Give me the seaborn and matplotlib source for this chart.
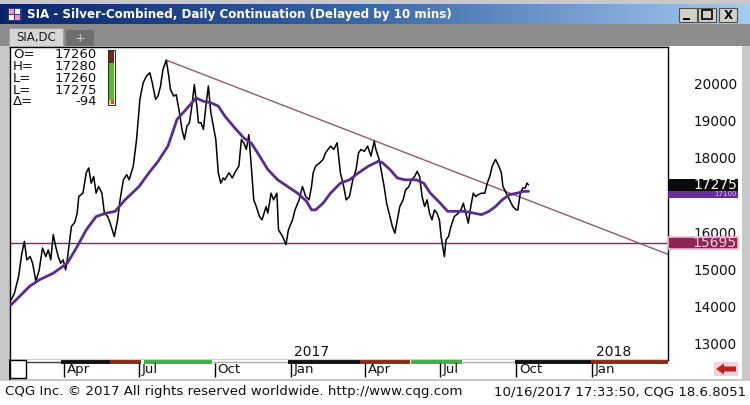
import matplotlib
matplotlib.use("Agg")
import matplotlib.pyplot as plt
import matplotlib.transforms as mtransforms
import matplotlib.dates as mdates
from matplotlib.patches import Rectangle, Polygon
from matplotlib.colors import LinearSegmentedColormap
import numpy as np
import pandas as pd
import seaborn as sns

# ---------------- data ----------------
price_dates = [
    "2016-01-28", "2016-02-01", "2016-02-06", "2016-02-10", "2016-02-13", "2016-02-16", "2016-02-20",
    "2016-02-23", "2016-02-27", "2016-03-02", "2016-03-06", "2016-03-10", "2016-03-13", "2016-03-16",
    "2016-03-19", "2016-03-22", "2016-03-25", "2016-03-28", "2016-03-31", "2016-04-03", "2016-04-05",
    "2016-04-10", "2016-04-14", "2016-04-17", "2016-04-19", "2016-04-24", "2016-04-28", "2016-05-01",
    "2016-05-04", "2016-05-07", "2016-05-10", "2016-05-13", "2016-05-17", "2016-05-20", "2016-05-24",
    "2016-05-27", "2016-06-01", "2016-06-05", "2016-06-08", "2016-06-12", "2016-06-16", "2016-06-19",
    "2016-06-24", "2016-06-28", "2016-07-02", "2016-07-06", "2016-07-10", "2016-07-14", "2016-07-17",
    "2016-07-21", "2016-07-24", "2016-07-27", "2016-07-30", "2016-08-03", "2016-08-06", "2016-08-08",
    "2016-08-12", "2016-08-15", "2016-08-19", "2016-08-22", "2016-08-25", "2016-08-28", "2016-08-31",
    "2016-09-03", "2016-09-06", "2016-09-09", "2016-09-11", "2016-09-14", "2016-09-17", "2016-09-20",
    "2016-09-23", "2016-09-26", "2016-09-29", "2016-10-02", "2016-10-05", "2016-10-08", "2016-10-11",
    "2016-10-13", "2016-10-18", "2016-10-22", "2016-10-26", "2016-10-30", "2016-11-02", "2016-11-05",
    "2016-11-08", "2016-11-11", "2016-11-14", "2016-11-17", "2016-11-20", "2016-11-24", "2016-11-27",
    "2016-12-02", "2016-12-04", "2016-12-08", "2016-12-11", "2016-12-15", "2016-12-17", "2016-12-22",
    "2016-12-26", "2016-12-29", "2017-01-03", "2017-01-06", "2017-01-11", "2017-01-15", "2017-01-19",
    "2017-01-23", "2017-01-26", "2017-01-28", "2017-01-31", "2017-02-05", "2017-02-09", "2017-02-12",
    "2017-02-18", "2017-02-22", "2017-02-26", "2017-03-02", "2017-03-06", "2017-03-09", "2017-03-13",
    "2017-03-17", "2017-03-21", "2017-03-24", "2017-03-27", "2017-03-31", "2017-04-04", "2017-04-08",
    "2017-04-12", "2017-04-14", "2017-04-18", "2017-04-21", "2017-04-24", "2017-04-27", "2017-05-01",
    "2017-05-04", "2017-05-07", "2017-05-10", "2017-05-13", "2017-05-17", "2017-05-20", "2017-05-24",
    "2017-05-27", "2017-05-31", "2017-06-03", "2017-06-06", "2017-06-09", "2017-06-12", "2017-06-15",
    "2017-06-18", "2017-06-21", "2017-06-24", "2017-06-27", "2017-06-30", "2017-07-02", "2017-07-04",
    "2017-07-06", "2017-07-08", "2017-07-11", "2017-07-14", "2017-07-18", "2017-07-23", "2017-07-26",
    "2017-07-29", "2017-08-01", "2017-08-04", "2017-08-07", "2017-08-10", "2017-08-13", "2017-08-16",
    "2017-08-20", "2017-08-24", "2017-08-27", "2017-08-30", "2017-09-02", "2017-09-06", "2017-09-10",
    "2017-09-13", "2017-09-15", "2017-09-19", "2017-09-21", "2017-09-25", "2017-09-27", "2017-10-01",
    "2017-10-03", "2017-10-06", "2017-10-09", "2017-10-12", "2017-10-14", "2017-10-16",
]
price_values = [
    14170, 14350, 14800, 15430, 15750, 15250, 15340,
    15160, 14670, 14980, 15570, 15340, 15520, 15250,
    15930, 15610, 15340, 15160, 15250, 14980, 15250,
    16150, 16260, 16510, 16960, 17050, 17600, 17730,
    17320, 17500, 17050, 17230, 17050, 16510, 16420,
    16240, 15880, 16330, 16870, 17410, 17550, 17410,
    17780, 18500, 19580, 20030, 20210, 20300, 20030,
    19580, 19670, 19940, 20390, 20640, 20210, 19850,
    19670, 19710, 19220, 18770, 18500, 18860, 18950,
    19400, 19980, 19400, 18950, 18950, 18770, 19400,
    19940, 19220, 18860, 18500, 17600, 17320, 17460,
    17410, 17600, 17460, 17640, 17780, 18500, 18400,
    18230, 18630, 17780, 16870, 16690, 16420, 16330,
    16690, 16510, 17050, 16870, 17050, 16060, 15880,
    15660, 16060, 16330, 16600, 16870, 17230, 16960,
    16870, 17230, 17600, 17780, 17870, 17960, 18140,
    18320, 18230, 18410, 17600, 17230, 16870, 16960,
    17410, 17690, 18140, 18230, 18180, 18320, 18050,
    18450, 18230, 17960, 17600, 17230, 16780, 16420,
    16150, 15970, 16330, 16690, 16870, 17140, 17230,
    17410, 17500, 17640, 17500, 16960, 16690, 16870,
    16510, 16330, 16600, 16510, 16330, 15880, 15610,
    15340, 15790, 15880, 16150, 16420, 16510, 16600,
    16780, 16510, 16240, 16690, 17050, 16960, 17010,
    17050, 17050, 17320, 17500, 17780, 17960, 17780,
    17600, 17230, 17050, 16960, 16780, 16690, 16600,
    16600, 17050, 17190, 17190, 17320, 17275,
]

ma_dates = [
    "2016-01-28", "2016-02-07", "2016-02-19", "2016-03-02", "2016-03-19", "2016-04-05", "2016-04-17",
    "2016-04-28", "2016-05-10", "2016-05-22", "2016-06-02", "2016-06-14", "2016-07-01", "2016-07-13",
    "2016-07-24", "2016-08-05", "2016-08-16", "2016-08-25", "2016-09-03", "2016-09-08", "2016-09-17",
    "2016-09-26", "2016-10-05", "2016-10-13", "2016-10-25", "2016-11-05", "2016-11-14", "2016-11-23",
    "2016-12-04", "2016-12-16", "2016-12-28", "2017-01-09", "2017-01-20", "2017-01-26", "2017-01-31",
    "2017-02-09", "2017-02-18", "2017-03-02", "2017-03-13", "2017-03-24", "2017-04-05", "2017-04-17",
    "2017-04-22", "2017-05-01", "2017-05-10", "2017-05-19", "2017-06-02", "2017-06-11", "2017-06-19",
    "2017-07-01", "2017-07-10", "2017-07-18", "2017-07-30", "2017-08-11", "2017-08-20", "2017-08-29",
    "2017-09-06", "2017-09-14", "2017-09-23", "2017-10-02", "2017-10-10", "2017-10-16",
]
ma_values = [
    14040, 14260, 14530, 14710, 14890, 15160, 15610,
    16060, 16420, 16510, 16560, 16870, 17230, 17600,
    17910, 18320, 19040, 19260, 19490, 19620, 19530,
    19490, 19400, 19130, 18810, 18540, 18400, 18090,
    17690, 17410, 17230, 17050, 16830, 16600, 16600,
    16780, 17050, 17320, 17410, 17600, 17780, 17910,
    17870, 17690, 17460, 17410, 17410, 17320, 17050,
    16780, 16560, 16560, 16560, 16510, 16470, 16560,
    16690, 16870, 17010, 17050, 17100, 17100,
]

trend_dates = ["2016-08-03", "2018-04-03"]
trend_values = [20640, 15400]
support_level = 15695
last_price = 17275

ohlc_labels = ["O=", "H=", "L=", "L=", "\u0394="]
ohlc_values = ["17260", "17280", "17260", "17275", "-94"]

ytick_values = [13000, 14000, 15000, 16000, 18000, 19000, 20000]
ytick_labels = [str(v) for v in ytick_values]

month_tick_dates = ["2016-04-01", "2016-07-01", "2016-10-01", "2017-01-01",
                    "2017-04-01", "2017-07-01", "2017-10-01", "2018-01-01"]
month_tick_labels = ["Apr", "Jul", "Oct", "Jan", "Apr", "Jul", "Oct", "Jan"]
year_dates = ["2017-01-01", "2018-01-01"]
year_labels = ["2017", "2018"]

x_range = ["2016-01-26", "2018-04-03"]
y_range = [12548, 21008]

# ---------------- figure ----------------
sns.set_theme(style="white")
plt.rcParams["font.family"] = ["DejaVu Sans"]

W, H = 750, 405
fig = plt.figure(figsize=(W / 100, H / 100), dpi=100, facecolor="#c8c8c8")


def box(x, y, w, h):
    return [x / W, 1 - (y + h) / H, w / W, h / H]


def frect(x, y, w, h, fc, ec="none", lw=0.0, z=1):
    fig.add_artist(Rectangle((x / W, 1 - (y + h) / H), w / W, h / H,
                             transform=fig.transFigure, facecolor=fc,
                             edgecolor=ec, linewidth=lw, zorder=z))


def ftext(x, y, s, **kw):
    fig.text(x / W, 1 - y / H, s, **kw)


def dnum(d):
    return mdates.date2num(pd.Timestamp(d))


# white backgrounds: y-axis area and footer
frect(668, 46, 74, 333, "white", z=-5)
frect(0, 381, 750, 24, "white", z=-5)

# title bar with gradient
tb = fig.add_axes(box(0, 4, 750, 20))
cmap_tb = LinearSegmentedColormap.from_list("tb", ["#0a246a", "#3a6aa8", "#a6caf0"])
tb.imshow(np.linspace(0, 1, 256)[None, :], aspect="auto", cmap=cmap_tb, extent=[0, 1, 0, 1])
tb.set_axis_off()

# icon
frect(8, 8, 14, 13, "#2a3f8a", z=2)
for (ix, iy, c) in [(9, 9, "#ff8fc8"), (15, 9, "#ffffff"), (9, 15, "#ffffff"), (15, 15, "#ff8fc8")]:
    frect(ix, iy, 5, 5, c, z=3)

ftext(27, 14.5, "SIA - Silver-Combined, Daily Continuation (Delayed by 10 mins)",
      color="white", fontsize=8.6, fontweight="bold", va="center")

# window buttons
for bx in [679, 698, 719]:
    frect(bx, 8, 18, 14, "#d4d0c8", ec="#505050", lw=0.8, z=2)
frect(683, 18, 7, 2, "black", z=3)
frect(702, 10.5, 10, 8.5, "none", ec="black", lw=1.2, z=3)
ftext(728, 15.5, "X", color="black", fontsize=8.5, fontweight="bold", ha="center", va="center")

# tab row
frect(0, 24, 750, 22, "#8c8c8c", z=-4)
frect(9, 28, 54, 18, "#d6d6d6", ec="#a0a0a0", lw=0.6, z=2)
ftext(36, 37.5, "SIA,DC", color="#202020", fontsize=8.5, ha="center", va="center")
frect(66, 30, 28, 16, "#6e6e6e", z=2)
ftext(80, 38, "+", color="#d0d0d0", fontsize=9, ha="center", va="center")

# ---------------- main chart ----------------
ax = fig.add_axes(box(9.5, 46.5, 658.5, 313.5))
ax.set_facecolor("white")

df_price = pd.DataFrame({"date": pd.to_datetime(price_dates), "price": price_values})
df_ma = pd.DataFrame({"date": pd.to_datetime(ma_dates), "ma": ma_values})
df_trend = pd.DataFrame({"date": pd.to_datetime(trend_dates), "trend": trend_values})

ax.axhline(support_level, color="#8b2257", linewidth=1.0, zorder=1)
sns.lineplot(data=df_trend, x="date", y="trend", ax=ax, color="#8c5d6e",
             linewidth=1.0, estimator=None, sort=False, zorder=1.5)
sns.lineplot(data=df_price, x="date", y="price", ax=ax, color="black",
             linewidth=1.1, estimator=None, sort=False, zorder=2)
sns.lineplot(data=df_ma, x="date", y="ma", ax=ax, color="#5b2c8f",
             linewidth=2.0, estimator=None, sort=False, zorder=3)

ax.set_xlim(dnum(x_range[0]), dnum(x_range[1]))
ax.set_ylim(*y_range)
ax.set_xlabel("")
ax.set_ylabel("")
ax.set_xticks([])
ax.yaxis.tick_right()
ax.set_yticks(ytick_values)
ax.set_yticklabels(ytick_labels)
ax.tick_params(axis="y", length=0, pad=49.7, labelsize=9.8, labelcolor="#111111")
for t in ax.get_yticklabels():
    t.set_horizontalalignment("right")
for sp in ax.spines.values():
    sp.set_visible(True)
    sp.set_color("black")
    sp.set_linewidth(1.0)

# year labels inside plot
for d, lbl in zip(year_dates, year_labels):
    ax.annotate(lbl, xy=(dnum(d), 0), xycoords=ax.get_xaxis_transform(),
                xytext=(2.5, 5.8), textcoords="offset points", ha="left", va="center",
                fontsize=10, color="#111111")

# right-side value boxes
blend = mtransforms.blended_transform_factory(ax.transAxes, ax.transData)
pxx = 1 / 658.5
pxy = (y_range[1] - y_range[0]) / 313.5


def value_box(center, text, fc, tc, z, h_px=13, ec="none", lw=0.0, fs=10):
    h = h_px * pxy
    ax.add_patch(Rectangle((1.0, center - h / 2), 70 * pxx, h, transform=blend,
                           facecolor=fc, edgecolor=ec, linewidth=lw, clip_on=False, zorder=z))
    ax.text(1 + 69 * pxx, center, text, transform=blend, ha="right", va="center",
            color=tc, fontsize=fs, clip_on=False, zorder=z + 0.1)


value_box(last_price, str(last_price), "#0a0a0a", "white", 7, h_px=12)
# moving-average marker, pushed just below the last-price marker
value_box(last_price - 9.5 * pxy, str(ma_values[-1]), "#6a2c9a", "#cdb8ec", 6,
          h_px=7, fs=5)
value_box(support_level, str(support_level), "#8e2456", "#f7d0e2", 8, h_px=12,
          ec="#f2b6cf", lw=1.2)

# OHLC readout
for i, (lab, val) in enumerate(zip(ohlc_labels, ohlc_values)):
    yy = 54 + 12 * i
    ftext(13, yy, lab, fontsize=9.5, va="center", color="#111111")
    ftext(97, yy, val, fontsize=9.5, va="center", ha="right", color="#111111")
frect(108, 50, 6, 13, "#6b2a14", z=2)
frect(108, 63, 6, 37, "#5cb82e", z=2)
frect(108, 100, 6, 4, "#e84a1a", z=2)
frect(107.5, 100, 3.5, 4, "#f0e040", z=3)
frect(107.5, 49.5, 7, 55, "none", ec="#303030", lw=0.8, z=4)

# ---------------- date strip ----------------
ax2 = fig.add_axes(box(9.5, 360, 658.5, 19))
ax2.set_facecolor("white")
ax2.set_xlim(dnum(x_range[0]), dnum(x_range[1]))
ax2.set_ylim(0, 1)
ax2.set_xticks([])
ax2.set_yticks([])
for k, sp in ax2.spines.items():
    sp.set_visible(k == "left")
ax2.spines["left"].set_color("black")

timeline = [
    ("2016-02-15", "2016-03-28", "#404040", 1.0),
    ("2016-03-28", "2016-05-27", "#111111", 2.8),
    ("2016-05-27", "2016-07-03", "#8b2a14", 2.8),
    ("2016-07-07", "2016-09-27", "#3cb043", 2.8),
    ("2016-09-27", "2016-12-29", "#b0b0b0", 1.0),
    ("2016-12-29", "2017-03-26", "#111111", 2.8),
    ("2017-03-26", "2017-05-25", "#8b2a14", 2.8),
    ("2017-05-27", "2017-07-27", "#3cb043", 2.8),
    ("2017-07-27", "2017-09-29", "#b0b0b0", 1.0),
    ("2017-09-29", "2017-12-31", "#111111", 2.8),
    ("2017-12-31", "2018-04-03", "#8b2a14", 2.8),
]
for s, e, c, lw in timeline:
    ax2.hlines(0.9, dnum(s), dnum(e), color=c, linewidth=lw)

tick_nums = [dnum(d) for d in month_tick_dates]
ax2.vlines(tick_nums, 0.12, 0.82, color="black", linewidth=1.0)
for d, lbl in zip(tick_nums, month_tick_labels):
    ax2.annotate(lbl, xy=(d, 0.5), xycoords="data", xytext=(2, 0),
                 textcoords="offset points", ha="left", va="center",
                 fontsize=9.5, color="#111111")

# scroll box and arrow
frect(10, 360, 16, 18, "white", ec="black", lw=1.0, z=5)
frect(714, 362, 24, 14, "#f7cde0", z=2)
arrow_px = [(716, 369), (724, 363.5), (724, 366.5), (736, 366.5),
            (736, 371.5), (724, 371.5), (724, 374.5)]
fig.add_artist(Polygon([(x / W, 1 - y / H) for x, y in arrow_px], closed=True,
                       transform=fig.transFigure, facecolor="#b8221a",
                       edgecolor="none", zorder=3))

# footer
ftext(5, 392, "CQG Inc. \u00a9 2017 All rights reserved worldwide. http://www.cqg.com",
      fontsize=9.6, va="center", color="#111111")
ftext(746, 392, "10/16/2017 17:33:50, CQG 18.6.8051", fontsize=9.6, va="center",
      ha="right", color="#111111")

fig.savefig("out.png", dpi=100, facecolor=fig.get_facecolor())
